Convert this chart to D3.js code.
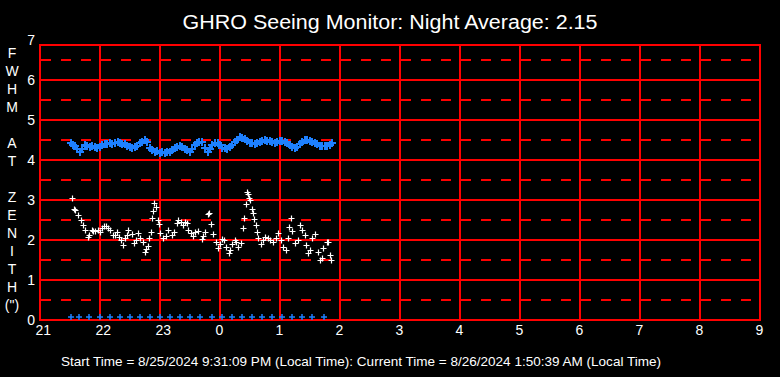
<!DOCTYPE html>
<html>
<head>
<meta charset="utf-8">
<script src="https://cdn.jsdelivr.net/npm/d3@7/dist/d3.min.js"></script>
<style>
html,body{margin:0;padding:0;background:#000;}
svg{display:block;}
text{font-family:"Liberation Sans",Arial,sans-serif;fill:#fff;}
</style>
</head>
<body>
<svg id="chart" width="780" height="377"></svg>
<script>
// ---------- data ----------
const titleText = "GHRO Seeing Monitor: Night Average: 2.15";
const footerText = "Start Time = 8/25/2024 9:31:09 PM (Local Time): Current Time = 8/26/2024 1:50:39 AM (Local Time)";
const yAxisLetters = ["F","W","H","M","","A","T","","Z","E","N","I","T","H","(\")"];
const xTickValues = [21,22,23,24,25,26,27,28,29,30,31,32,33];
const xTickLabels = ["21","22","23","0","1","2","3","4","5","6","7","8","9"];
const yTickValues = [0,1,2,3,4,5,6,7];
const yTickLabels = ["0","1","2","3","4","5","6","7"];
const yDashedValues = [0.5,1.5,2.5,3.5,4.5,5.5,6.5];

// minutes after 21:00 and values
const blueMinutes = [31,33,35,37,40,42,45,47,50,52,55,57,60,62,65,67,70,72,75,78,80,82,85,87,90,92,95,97,100,102,105,107,110,112,115,117,120,122,125,127,130,132,135,137,140,142,145,147,150,152,155,157,159,162,165,168,170,172,175,178,180,182,185,187,190,192,195,197,200,202,205,207,210,212,215,217,220,222,225,227,230,232,235,237,240,242,245,247,250,252,255,257,260,262,265,267,270,272,275,277,280,282,285,287,290,292];
const blueValues = [4.43,4.38,4.35,4.28,4.21,4.27,4.37,4.36,4.33,4.35,4.32,4.30,4.33,4.38,4.40,4.41,4.42,4.40,4.43,4.46,4.43,4.40,4.40,4.36,4.33,4.30,4.32,4.36,4.42,4.45,4.50,4.44,4.30,4.26,4.21,4.22,4.18,4.20,4.18,4.20,4.21,4.25,4.30,4.33,4.35,4.33,4.28,4.24,4.21,4.28,4.37,4.42,4.46,4.45,4.30,4.21,4.28,4.37,4.42,4.43,4.38,4.30,4.29,4.28,4.33,4.38,4.45,4.50,4.57,4.54,4.52,4.48,4.43,4.42,4.40,4.43,4.44,4.47,4.50,4.48,4.47,4.46,4.43,4.45,4.47,4.48,4.46,4.42,4.37,4.33,4.29,4.33,4.41,4.46,4.50,4.49,4.48,4.46,4.43,4.40,4.35,4.34,4.35,4.34,4.37,4.43];

const whiteMinutes = [32.3,34.3,35.5,38.3,41,43.3,45,47.7,49,51.7,53,55,58.3,60,62.3,64,65.7,68.3,70,73.3,75,76.7,79,81,83.3,85,86.7,88.3,91.7,94.3,96,98.3,100,103.3,105,106,107.7,109,111,112.3,113.3,114.3,115.7,118.3,118.8,120,123.3,126,128.3,131.7,134,136.7,138.3,141,143.3,145,146.7,148.3,151,153,155,158.3,161.7,163,165,167.7,169,171,173.3,175.7,178.3,180,181.7,184,185.7,189,190,192.3,195,196,198.3,201,203,204.3,205.5,206.7,208,209,210,211.7,213.3,214.3,215.7,216.7,218.3,221,223,225,228.3,230,233.3,236,238.3,241,243.3,245.7,247.7,249,251,252.3,255,257.7,260,262.3,265,265.7,267.7,270,271.7,275,277.7,280,281.5,283.3,286.7,288,290,291];
const whiteValues = [3.06,2.78,2.75,2.63,2.50,2.37,2.25,2.08,2.12,2.25,2.22,2.22,2.25,2.20,2.31,2.35,2.36,2.29,2.25,2.13,2.12,2.19,2.08,2.00,1.88,2.05,2.12,2.25,2.14,1.92,2.00,2.17,2.06,1.96,1.71,1.78,1.86,2.06,2.21,2.56,2.72,2.92,2.83,2.50,2.39,2.17,2.04,2.10,2.25,2.12,2.20,2.42,2.50,2.45,2.38,2.45,2.42,2.25,2.17,2.10,2.21,2.23,2.02,2.10,2.21,2.64,2.68,2.39,2.14,1.96,1.79,1.90,2.02,2.00,1.83,1.67,1.75,1.89,2.00,1.95,1.83,1.92,2.30,2.54,2.90,3.21,3.15,3.06,3.00,2.78,2.67,2.52,2.37,2.21,2.06,1.89,2.00,2.08,2.06,2.00,1.96,2.05,2.17,2.00,1.83,1.75,2.04,2.33,2.56,2.22,1.92,2.00,2.38,2.25,2.12,1.88,1.67,1.75,2.06,2.14,1.71,1.50,1.55,1.79,1.94,1.96,1.63,1.50];

const baseMinutes = [31,39,49,60,70,80,90,100,110,120,130,140,150,160,172,182,192,202,212,222,232,242,252,262,272,284];
const baseValues = [0.07,0.07,0.07,0.07,0.07,0.07,0.07,0.07,0.07,0.07,0.07,0.07,0.07,0.07,0.07,0.07,0.07,0.07,0.07,0.07,0.07,0.07,0.07,0.07,0.07,0.07];

// ---------- drawing ----------
const svg = d3.select("#chart");
svg.append("rect").attr("width",780).attr("height",377).attr("fill","#000");

const plotLeft = 40, plotRight = 760, plotTop = 45, plotBottom = 320;
const x = d3.scaleLinear().domain([21,33]).range([plotLeft, plotRight]);
const y = d3.scaleLinear().domain([0,7]).range([plotBottom, plotBottom - 280]);
const hourOf = m => 21 + m/60;

const grid = svg.append("g").attr("shape-rendering","crispEdges");
grid.selectAll("line.dash").data(yDashedValues).enter().append("line")
  .attr("x1",plotLeft).attr("x2",plotRight)
  .attr("y1",d=>y(d)).attr("y2",d=>y(d))
  .attr("stroke","#ff0000").attr("stroke-width",2).attr("stroke-dasharray","10,10")
  .attr("stroke-dashoffset",-1);
grid.selectAll("line.h").data(yTickValues.filter(v=>v>0 && v<7)).enter().append("line")
  .attr("x1",plotLeft).attr("x2",plotRight)
  .attr("y1",d=>y(d)).attr("y2",d=>y(d))
  .attr("stroke","#ff0000").attr("stroke-width",2);
grid.selectAll("line.v").data(xTickValues).enter().append("line")
  .attr("x1",d=>x(d)).attr("x2",d=>x(d))
  .attr("y1",plotTop).attr("y2",plotBottom)
  .attr("stroke","#ff0000").attr("stroke-width",2);
grid.append("rect").attr("x",plotLeft).attr("y",plotTop)
  .attr("width",plotRight-plotLeft).attr("height",plotBottom-plotTop)
  .attr("fill","none").attr("stroke","#ff0000").attr("stroke-width",2);

svg.append("g").selectAll("text").data(yTickValues).enter().append("text")
  .attr("x",35).attr("y",d=>y(d)+5)
  .attr("text-anchor","end").attr("font-size",14)
  .text((d,i)=>yTickLabels[i]);

svg.append("g").selectAll("text").data(xTickValues).enter().append("text")
  .attr("x",d=>x(d)-4.5).attr("y",335)
  .attr("text-anchor","start").attr("font-size",14)
  .text((d,i)=>xTickLabels[i]);

svg.append("g").selectAll("text").data(yAxisLetters).enter().append("text")
  .attr("x",12).attr("y",(d,i)=>58 + i*18)
  .attr("text-anchor","middle").attr("font-size",14)
  .text(d=>d);

svg.append("text").attr("x",390).attr("y",29).attr("text-anchor","middle")
  .attr("font-size",20).attr("textLength",415).attr("lengthAdjust","spacingAndGlyphs")
  .text(titleText);

svg.append("text").attr("x",361).attr("y",366).attr("text-anchor","middle")
  .attr("font-size",13).attr("textLength",600).attr("lengthAdjust","spacingAndGlyphs")
  .text(footerText);

const plus = "M-3,0H3M0,-3V3";
const plusB = "M-4,0H4M0,-4V4";
const plusS = "M-3,0H3M0,-3V3";

svg.append("g").selectAll("path").data(blueMinutes).enter().append("path")
  .attr("transform",(d,i)=>`translate(${Math.round(x(hourOf(d)))},${Math.round(y(blueValues[i]))})`)
  .attr("d",plusB).attr("stroke","#1e80ff").attr("stroke-width",2).attr("fill","none");

svg.append("g").selectAll("path").data(baseMinutes).enter().append("path")
  .attr("transform",(d,i)=>`translate(${Math.round(x(hourOf(d)))},${Math.round(y(baseValues[i]))})`)
  .attr("d",plusS).attr("stroke","#1e80ff").attr("stroke-width",1.5).attr("fill","none");

svg.append("g").selectAll("path").data(whiteMinutes).enter().append("path")
  .attr("transform",(d,i)=>`translate(${Math.round(x(hourOf(d)))+0.5},${Math.round(y(whiteValues[i]))+0.5})`)
  .attr("d",plus).attr("stroke","#fff").attr("stroke-width",1.2).attr("fill","none");
</script>
</body>
</html>
